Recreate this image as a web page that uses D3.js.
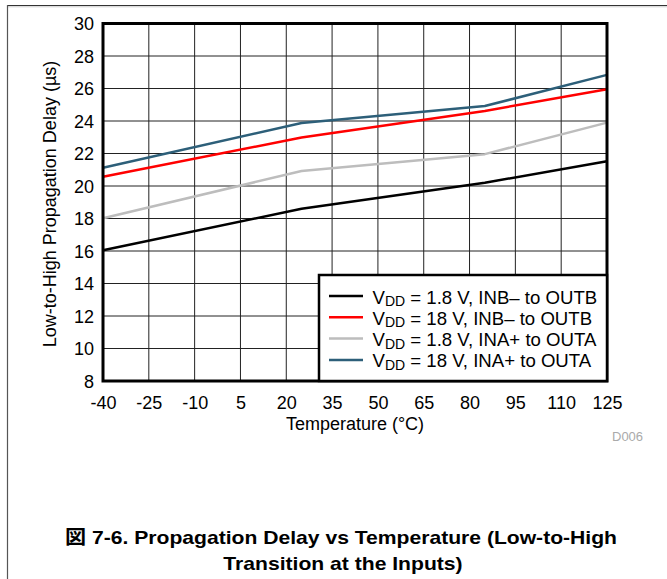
<!DOCTYPE html>
<html>
<head>
<meta charset="utf-8">
<script src="https://cdn.jsdelivr.net/npm/d3@7"></script>
<style>
  html, body { margin: 0; padding: 0; background: #fff; }
  svg { display: block; font-family: "Liberation Sans", Arial, sans-serif; }
</style>
</head>
<body>
<svg id="chart" width="667" height="579"></svg>
<script>
// Temperature sample points (°C)
const temps = [-40, 25, 85, 125];

// Propagation delay (µs) for each configuration
const vdd18_inb = [16.05, 18.6, 20.2, 21.52];
const vdd18V_inb = [20.57, 22.98, 24.62, 25.96];
const vdd18_ina = [18.02, 20.92, 21.96, 23.9];
const vdd18V_ina = [21.12, 23.88, 24.92, 26.84];

const seriesNames = [
  "1.8 V, INB\u2013 to OUTB",
  "18 V, INB\u2013 to OUTB",
  "1.8 V, INA+ to OUTA",
  "18 V, INA+ to OUTA"
];
const seriesValues = [vdd18_inb, vdd18V_inb, vdd18_ina, vdd18V_ina];
const seriesColors = ["#000000", "#ff0000", "#bdbdbd", "#2d5f79"];

const xTicks = [-40, -25, -10, 5, 20, 35, 50, 65, 80, 95, 110, 125];
const yTicks = [8, 10, 12, 14, 16, 18, 20, 22, 24, 26, 28, 30];

const FONT = "Liberation Sans, Arial, sans-serif";
const svg = d3.select("#chart");

// Page frame lines
svg.append("line").attr("x1", 7.5).attr("x2", 667).attr("y1", 5.5).attr("y2", 5.5)
  .attr("stroke", "#333").attr("stroke-width", 1.2);
svg.append("line").attr("x1", 7.5).attr("x2", 667).attr("y1", 6.8).attr("y2", 6.8)
  .attr("stroke", "#ccc").attr("stroke-width", 1);
svg.append("line").attr("x1", 7.5).attr("x2", 7.5).attr("y1", 5).attr("y2", 579)
  .attr("stroke", "#555").attr("stroke-width", 1.2);

const x = d3.scaleLinear().domain([-40, 125]).range([103, 607]);
const y = d3.scaleLinear().domain([8, 30]).range([381, 23.5]);

// Grid
const grid = svg.append("g");
grid.selectAll("line.v").data(xTicks).join("line")
  .attr("x1", d => x(d)).attr("x2", d => x(d))
  .attr("y1", y(30)).attr("y2", y(8))
  .attr("stroke", "#222").attr("stroke-width", 1);
grid.selectAll("line.h").data(yTicks).join("line")
  .attr("x1", x(-40)).attr("x2", x(125))
  .attr("y1", d => y(d)).attr("y2", d => y(d))
  .attr("stroke", "#222").attr("stroke-width", 1);

// Series lines
const line = d3.line().x((d, i) => x(temps[i])).y(d => y(d));
seriesValues.forEach((vals, k) => {
  svg.append("path").datum(vals)
    .attr("d", line)
    .attr("fill", "none")
    .attr("stroke", seriesColors[k])
    .attr("stroke-width", 2.5)
    .attr("stroke-linejoin", "round");
});

// Plot border
svg.append("rect")
  .attr("x", x(-40)).attr("y", y(30))
  .attr("width", x(125) - x(-40)).attr("height", y(8) - y(30))
  .attr("fill", "none").attr("stroke", "#000").attr("stroke-width", 3);

// Tick labels via d3 axes (domain and tick marks hidden)
const yAxis = svg.append("g")
  .attr("transform", `translate(${x(-40)},0)`)
  .call(d3.axisLeft(y).tickValues(yTicks).tickSize(0).tickPadding(9));
yAxis.select(".domain").remove();
yAxis.selectAll("text").attr("font-size", 18).attr("fill", "#000")
  .attr("font-family", FONT).attr("dy", "0.36em");

const xAxis = svg.append("g")
  .attr("transform", `translate(0,${y(8)})`)
  .call(d3.axisBottom(x).tickValues(xTicks).tickFormat(d => String(d)).tickSize(0));
xAxis.select(".domain").remove();
xAxis.selectAll("text").attr("font-size", 18).attr("fill", "#000")
  .attr("font-family", FONT).attr("y", 28).attr("dy", null);

// Axis titles
svg.append("text")
  .attr("transform", "translate(56,204) rotate(-90)")
  .attr("text-anchor", "middle")
  .attr("font-size", 18)
  .text("Low-to-High Propagation Delay (\u00b5s)");

svg.append("text")
  .attr("x", 355).attr("y", 430)
  .attr("text-anchor", "middle")
  .attr("font-size", 18)
  .text("Temperature (\u00b0C)");

svg.append("text")
  .attr("x", 612).attr("y", 441)
  .attr("font-size", 13)
  .attr("fill", "#aaa")
  .text("D006");

// Legend
const lg = svg.append("g");
lg.append("rect")
  .attr("x", 319).attr("y", 275)
  .attr("width", x(125) - 319).attr("height", y(8) - 275)
  .attr("fill", "#fff").attr("stroke", "#000").attr("stroke-width", 2.5);
seriesNames.forEach((nm, k) => {
  const yy = 296 + k * 21.3;
  lg.append("line").attr("x1", 329).attr("x2", 363).attr("y1", yy).attr("y2", yy)
    .attr("stroke", seriesColors[k]).attr("stroke-width", 2.5);
  const t = lg.append("text").attr("x", 372.5).attr("y", yy + 7.5).attr("font-size", 18.6);
  t.append("tspan").text("V");
  t.append("tspan").attr("font-size", 14).attr("dy", 2.5).text("DD");
  t.append("tspan").attr("dy", -2.5).text(" = " + nm);
});

// Caption
const capFont = "Liberation Sans, 'Noto Sans CJK JP', sans-serif";
const c1 = svg.append("text")
  .attr("x", 341).attr("y", 544)
  .attr("text-anchor", "middle").attr("font-weight", "bold")
  .attr("font-size", 19).attr("font-family", capFont)
  .text("\u56f3 7-6. Propagation Delay vs Temperature (Low-to-High");
const c2 = svg.append("text")
  .attr("x", 343).attr("y", 570)
  .attr("text-anchor", "middle").attr("font-weight", "bold")
  .attr("font-size", 19).attr("font-family", capFont)
  .text("Transition at the Inputs)");
const stretch = 552 / c1.node().getComputedTextLength();
c1.attr("textLength", 552).attr("lengthAdjust", "spacingAndGlyphs");
c2.attr("textLength", c2.node().getComputedTextLength() * stretch)
  .attr("lengthAdjust", "spacingAndGlyphs");
</script>
</body>
</html>
